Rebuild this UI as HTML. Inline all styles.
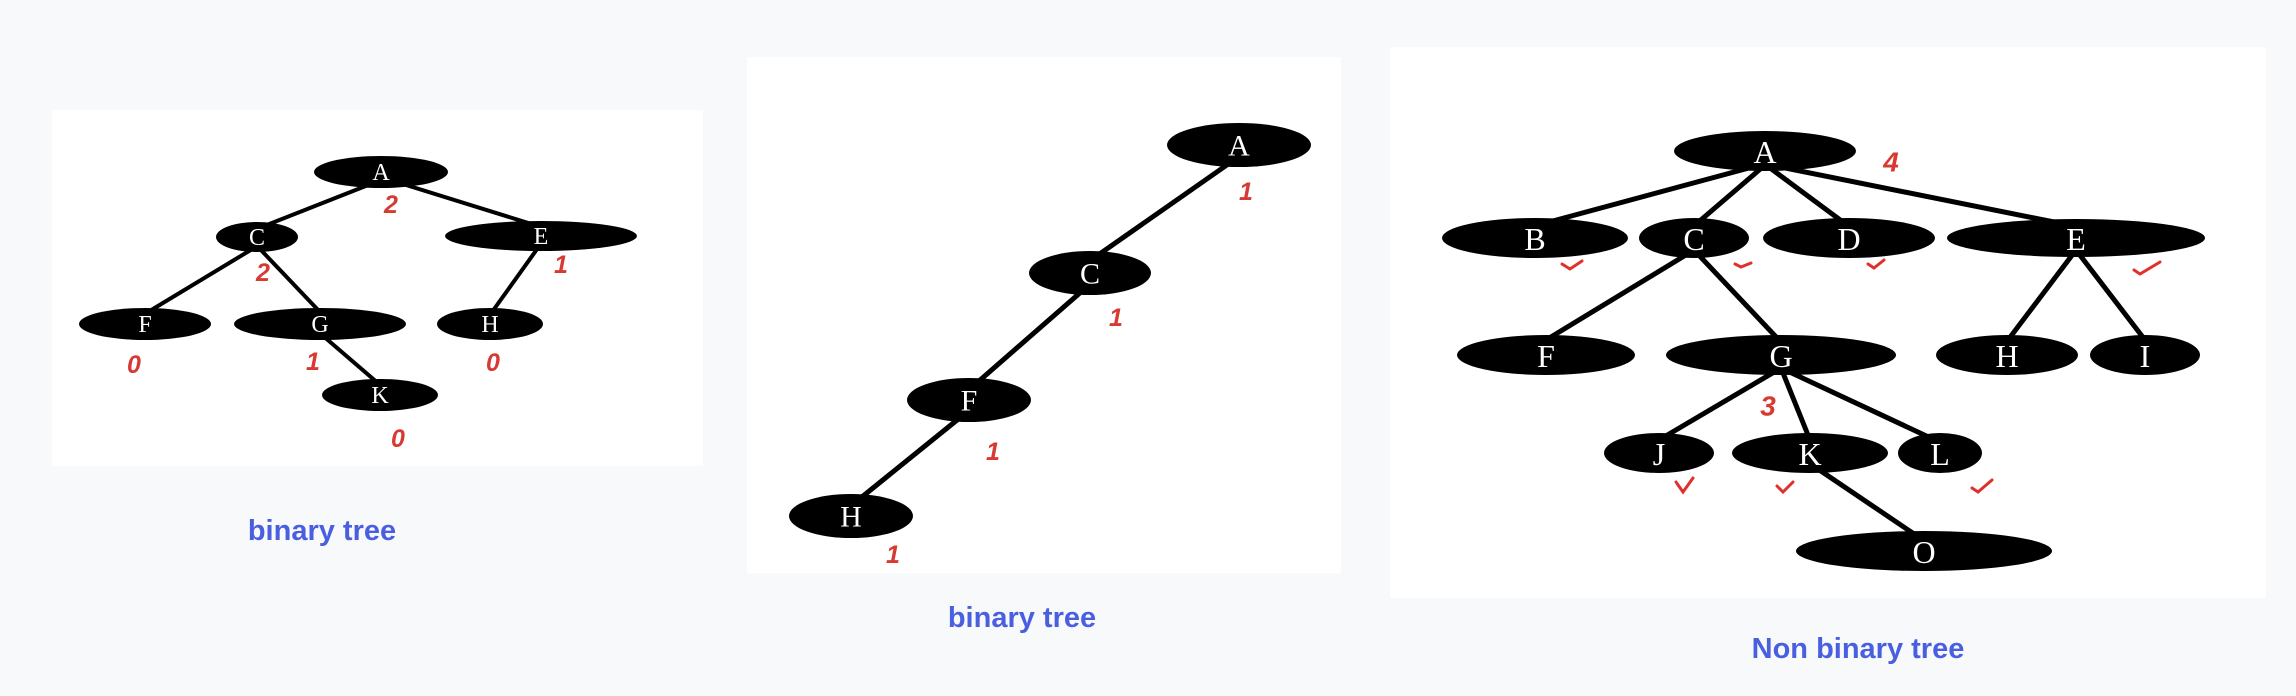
<!DOCTYPE html>
<html><head><meta charset="utf-8"><style>
html,body{margin:0;padding:0;background:#f8f9fb;}
svg{display:block}
.n{font-family:"Liberation Serif",serif;fill:#fff;text-anchor:middle;dominant-baseline:central}
.r{font-family:"Liberation Sans",sans-serif;fill:#d63a32;font-weight:bold;font-style:italic;text-anchor:middle;dominant-baseline:central}
.c{font-family:"Liberation Sans",sans-serif;fill:#4a5fe0;font-weight:bold;text-anchor:middle;dominant-baseline:central}
</style></head><body>
<svg width="2296" height="696" viewBox="0 0 2296 696" xmlns="http://www.w3.org/2000/svg">
<rect width="2296" height="696" fill="#f8f9fb"/>
<!-- Panel 1 -->
<rect x="52" y="110" width="651" height="356" fill="#fff"/>
<g stroke="#000" stroke-width="4">
<line x1="381" y1="180" x2="254" y2="230"/>
<line x1="390" y1="180" x2="538" y2="226"/>
<line x1="254" y1="248" x2="148" y2="312"/>
<line x1="259" y1="248" x2="320" y2="312"/>
<line x1="540" y1="245" x2="492" y2="312"/>
<line x1="322" y1="335" x2="379" y2="384"/>
</g>
<g fill="#000">
<ellipse cx="381" cy="172" rx="67" ry="16"/>
<ellipse cx="257" cy="237" rx="41" ry="15"/>
<ellipse cx="541" cy="236" rx="96" ry="15"/>
<ellipse cx="145" cy="324" rx="66" ry="16"/>
<ellipse cx="320" cy="324" rx="86" ry="16"/>
<ellipse cx="490" cy="324" rx="53" ry="16"/>
<ellipse cx="380" cy="395" rx="58" ry="16"/>
</g>
<g class="n" font-size="24">
<text x="381" y="173">A</text><text x="257" y="238">C</text><text x="541" y="237">E</text>
<text x="145" y="325">F</text><text x="320" y="325">G</text><text x="490" y="325">H</text><text x="380" y="396">K</text>
</g>
<g class="r" font-size="25">
<text x="391" y="205">2</text><text x="263" y="273">2</text><text x="561" y="265">1</text>
<text x="134" y="365">0</text><text x="313" y="362">1</text><text x="493" y="363">0</text><text x="398" y="439">0</text>
</g>
<text class="c" x="322" y="531" font-size="29">binary tree</text>

<!-- Panel 2 -->
<rect x="747" y="57" width="594" height="516" fill="#fff"/>
<g stroke="#000" stroke-width="5">
<line x1="1234" y1="160" x2="1091" y2="260"/>
<line x1="1089" y1="285" x2="971" y2="388"/>
<line x1="967" y1="412" x2="852" y2="505"/>
</g>
<g fill="#000">
<ellipse cx="1239" cy="145" rx="72" ry="22"/>
<ellipse cx="1090" cy="273" rx="61" ry="22"/>
<ellipse cx="969" cy="400" rx="62" ry="22"/>
<ellipse cx="851" cy="516" rx="62" ry="22"/>
</g>
<g class="n" font-size="30">
<text x="1239" y="146">A</text><text x="1090" y="274">C</text><text x="969" y="401">F</text><text x="851" y="517">H</text>
</g>
<g class="r" font-size="25">
<text x="1246" y="192">1</text><text x="1116" y="318">1</text><text x="993" y="452">1</text><text x="893" y="555">1</text>
</g>
<text class="c" x="1022" y="618" font-size="29">binary tree</text>

<!-- Panel 3 -->
<rect x="1390" y="47" width="876" height="551" fill="#fff"/>
<g stroke="#000" stroke-width="5">
<line x1="1760" y1="165" x2="1538" y2="225"/>
<line x1="1765" y1="165" x2="1695" y2="225"/>
<line x1="1766" y1="165" x2="1847" y2="225"/>
<line x1="1770" y1="165" x2="2069" y2="225"/>
<line x1="1694" y1="250" x2="1546" y2="340"/>
<line x1="1694" y1="250" x2="1779" y2="340"/>
<line x1="2076" y1="250" x2="2008" y2="340"/>
<line x1="2076" y1="250" x2="2145" y2="340"/>
<line x1="1781" y1="368" x2="1659" y2="440"/>
<line x1="1781" y1="368" x2="1810" y2="440"/>
<line x1="1781" y1="368" x2="1935" y2="440"/>
<line x1="1812" y1="465" x2="1923" y2="540"/>
</g>
<g fill="#000">
<ellipse cx="1765" cy="151" rx="91" ry="20"/>
<ellipse cx="1535" cy="238" rx="93" ry="20"/>
<ellipse cx="1694" cy="238" rx="55" ry="20"/>
<ellipse cx="1849" cy="238" rx="86" ry="20"/>
<ellipse cx="2076" cy="238" rx="129" ry="19"/>
<ellipse cx="1546" cy="355" rx="89" ry="20"/>
<ellipse cx="1781" cy="355" rx="115" ry="20"/>
<ellipse cx="2007" cy="355" rx="71" ry="20"/>
<ellipse cx="2145" cy="355" rx="55" ry="20"/>
<ellipse cx="1659" cy="453" rx="55" ry="20"/>
<ellipse cx="1810" cy="453" rx="78" ry="20"/>
<ellipse cx="1940" cy="453" rx="42" ry="20"/>
<ellipse cx="1924" cy="551" rx="128" ry="20"/>
</g>
<g class="n" font-size="32">
<text x="1765" y="152">A</text><text x="1535" y="239">B</text><text x="1694" y="239">C</text><text x="1849" y="239">D</text><text x="2076" y="239">E</text>
<text x="1546" y="356">F</text><text x="1781" y="356">G</text><text x="2007" y="356">H</text><text x="2145" y="356">I</text>
<text x="1659" y="454">J</text><text x="1810" y="454">K</text><text x="1940" y="454">L</text><text x="1924" y="552">O</text>
</g>
<g class="r" font-size="28" font-weight="normal">
<text x="1891" y="162">4</text><text x="1768" y="406">3</text>
</g>
<g stroke="#e0302a" stroke-width="3" fill="none" stroke-linecap="round">
<path d="M1562 264 l8 5 l12 -8"/>
<path d="M1735 264 l6 3 l10 -4"/>
<path d="M1868 264 l6 4 l10 -8"/>
<path d="M2134 270 l6 4 l20 -12"/>
<path d="M1676 482 l7 10 l10 -14"/>
<path d="M1777 486 l6 6 l10 -10"/>
<path d="M1972 488 l6 4 l14 -12"/>
</g>
<text class="c" x="1858" y="649" font-size="29">Non binary tree</text>
</svg>
</body></html>
